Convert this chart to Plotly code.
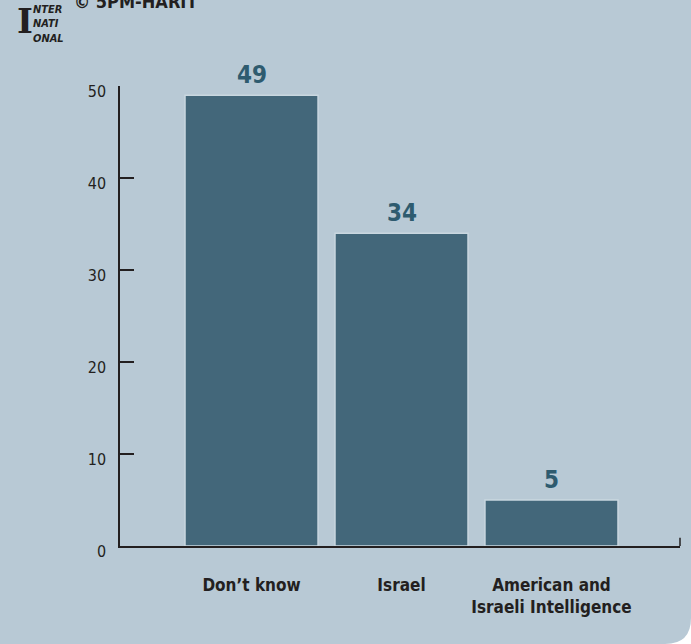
import plotly.graph_objects as go

categories = ["Don’t know", "Israel", "American and<br>Israeli Intelligence"]
values = [49, 34, 5]
y_ticks = [0, 10, 20, 30, 40, 50]

BG = "#B8C9D5"
BAR = "#43677A"
DARK = "#231F20"
FONT = "Liberation Sans Narrow, DejaVu Sans Condensed, Arial Narrow, sans-serif"

xpos = list(range(len(categories)))

fig = go.Figure()
fig.add_trace(go.Bar(
    x=xpos, y=values, width=0.887,
    marker=dict(color=BAR, line=dict(color="#C9D7E0", width=1.5)),
    cliponaxis=False,
))
for xi, v in zip(xpos, values):
    fig.add_annotation(x=xi, y=v, text=f"<b>{v}</b>", showarrow=False,
                       yanchor="bottom", yshift=4,
                       font=dict(family=FONT, size=24, color="#2E5B6F"))

W, H = 691, 644
L, R, T, B = 120, 11, 86, 98
pw, ph = W - L - R, H - T - B


def px(X):
    return (X - L) / pw


def py(Y):
    return (H - B - Y) / ph


fig.update_layout(
    width=W, height=H,
    margin=dict(l=L, r=R, t=T, b=B),
    paper_bgcolor=BG, plot_bgcolor=BG,
    showlegend=False,
    font=dict(family=FONT, color=DARK),
    xaxis=dict(
        range=[-0.877, 2.857],
        tickvals=xpos, ticktext=[f"<b>{c}</b>" for c in categories],
        tickfont=dict(family=FONT, size=17, color=DARK),
        showgrid=False, zeroline=False,
        showline=True, linecolor=DARK, linewidth=1.5,
        ticks="", ticklabelstandoff=23,
        layer="below traces",
    ),
    yaxis=dict(
        range=[0, 50], tickvals=y_ticks,
        tickfont=dict(family=FONT, size=16, color=DARK),
        showgrid=False, zeroline=False,
        showline=True, linecolor=DARK, linewidth=1.5,
        ticks="inside", ticklen=14, tickwidth=1.5, tickcolor=DARK,
        ticklabelstandoff=9, ticklabelshift=5,
        layer="below traces",
    ),
)

# small end tick at the right end of the x axis
fig.add_shape(type="line", xref="paper", yref="paper",
              x0=1, x1=1, y0=0, y1=0.018,
              line=dict(color=DARK, width=1.5))

# rounded bottom-right corner of the panel
r = 26
fig.add_shape(type="path", xref="paper", yref="paper",
              path=(f"M {px(W - r)},{py(H)} L {px(W)},{py(H)} L {px(W)},{py(H - r)} "
                    f"Q {px(W)},{py(H)} {px(W - r)},{py(H)} Z"),
              fillcolor="white", line=dict(width=0), layer="above")

# logo top-left
fig.add_annotation(xref="paper", yref="paper", x=px(15), y=py(43),
                   xanchor="left", yanchor="bottom", showarrow=False,
                   text="<b>I</b>",
                   font=dict(family="DejaVu Serif, serif", size=34, color=DARK))
fig.add_annotation(xref="paper", yref="paper", x=px(31), y=py(1),
                   xanchor="left", yanchor="top", showarrow=False, align="left",
                   text="<b><i>NTER<br>NATI<br>ONAL</i></b>",
                   font=dict(family="DejaVu Sans Condensed, sans-serif", size=11, color=DARK))
fig.add_annotation(xref="paper", yref="paper", x=px(72), y=py(2),
                   xanchor="left", yanchor="middle", showarrow=False,
                   text="<b>© 5PM-HARIT</b>",
                   font=dict(family=FONT, size=18, color=DARK))

fig.write_html(
    "out.html",
    config={"displayModeBar": False},
    post_script="document.body.style.margin='0';document.body.style.background='white';",
)
